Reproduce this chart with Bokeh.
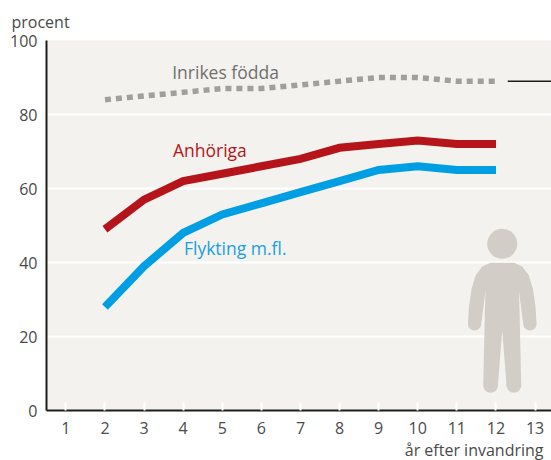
from bokeh.plotting import figure
from bokeh.models import Label, Range1d, FixedTicker, Title
from bokeh.embed import file_html
from bokeh.resources import INLINE

FONT = "Open Sans"
years = [2, 3, 4, 5, 6, 7, 8, 9, 10, 11, 12]
inrikes = [84, 85, 86, 87, 87, 88, 89, 90, 90, 89, 89]
anhoriga = [49, 57, 62, 64, 66, 68, 71, 72, 73, 72, 72]
flykting = [28, 39, 48, 53, 56, 59, 62, 65, 66, 65, 65]
x_ticks = list(range(1, 14))
y_ticks = [0, 20, 40, 60, 80, 100]
leader_x = [12.3, 13.42]
leader_y = [89, 89]

# decorative person icon, in units of x-axis / y-axis
person_half = [(0.0, 39.9), (0.298, 39.9), (0.512, 38.9), (0.682, 36.5), (0.784, 32.9),
               (0.853, 27.9), (0.878, 23.4), (0.537, 23.4), (0.426, 32.4), (0.443, 27.0),
               (0.486, 6.76), (0.111, 6.76), (0.0, 21.6)]
person_x0 = 12.16
person_xs = [person_x0 + a for a, b in person_half] + [person_x0 - a for a, b in reversed(person_half)]
person_ys = [b for a, b in person_half] + [b for a, b in reversed(person_half)]
arm_x = [person_x0 + 0.708, person_x0 - 0.708]
arm_y = [23.4, 23.4]
leg_x = [person_x0 + 0.298, person_x0 - 0.298]
leg_y = [6.76, 6.76]
head_y = [45.05]

p = figure(width=551, height=460, output_backend="svg", toolbar_location=None,
           x_range=Range1d(0.505, 13.42), y_range=Range1d(0, 100),
           min_border_left=46, min_border_right=0, min_border_top=40, min_border_bottom=50,
           background_fill_color="#f3f2ee", border_fill_color="white", outline_line_color=None)

p.xgrid.visible = False
p.ygrid.ticker = FixedTicker(ticks=[20, 40, 60, 80])
p.ygrid.grid_line_color = "white"
p.ygrid.grid_line_width = 2

for ax in (p.xaxis[0], p.yaxis[0]):
    ax.axis_line_color = "#1d1d1b"
    ax.axis_line_width = 2
    ax.major_tick_out = 0
    ax.minor_tick_line_color = None
    ax.major_label_text_font = FONT
    ax.major_label_text_font_size = "16px"
    ax.major_label_text_color = "#4a4a49"

p.xaxis.ticker = FixedTicker(ticks=x_ticks)
p.xaxis.major_tick_in = 8
p.xaxis.major_tick_line_color = "white"
p.xaxis.major_tick_line_width = 2
p.xaxis.major_label_standoff = 11
p.yaxis.ticker = FixedTicker(ticks=y_ticks)
p.yaxis.major_tick_line_color = None
p.yaxis.major_tick_in = 0
p.yaxis.major_label_standoff = 9

# person icon
p.patch(person_xs, person_ys, fill_color="#d2cec7", line_color=None)
p.scatter(arm_x, arm_y, size=13.3, marker="circle", fill_color="#d2cec7", line_color=None)
p.scatter(leg_x, leg_y, size=14.7, marker="circle", fill_color="#d2cec7", line_color=None)
p.scatter([person_x0], head_y, size=30, marker="circle", fill_color="#d2cec7", line_color=None)

# series
p.line(years, inrikes, line_color="#a09f9d", line_width=5.5, line_dash="6 5")
p.line(years, anhoriga, line_color="#b5151a", line_width=8, line_join="miter")
p.line(years, flykting, line_color="#009fe3", line_width=8, line_join="miter")
p.line(leader_x, leader_y, line_color="#1d1d1b", line_width=1.5)


def lab(x, y, text, color):
    p.add_layout(Label(x=x, y=y, text=text, text_color=color, text_font=FONT,
                       text_font_size="17.5px", text_align="left", text_baseline="middle"))


lab(3.72, 91.4, "Inrikes födda", "#706f6f")
lab(3.74, 70.3, "Anhöriga", "#b5151a")
lab(4.02, 43.8, "Flykting m.fl.", "#1aa0de")

p.add_layout(Title(text="procent", align="left", offset=-35, standoff=15, text_font=FONT,
                   text_font_size="16px", text_font_style="normal", text_color="#4a4a49"), "above")
p.add_layout(Title(text="år efter invandring", align="right", offset=8, standoff=0, text_font=FONT,
                   text_font_size="16px", text_font_style="normal", text_color="#4a4a49"), "below")

open("out.html", "w").write(file_html(p, INLINE))
